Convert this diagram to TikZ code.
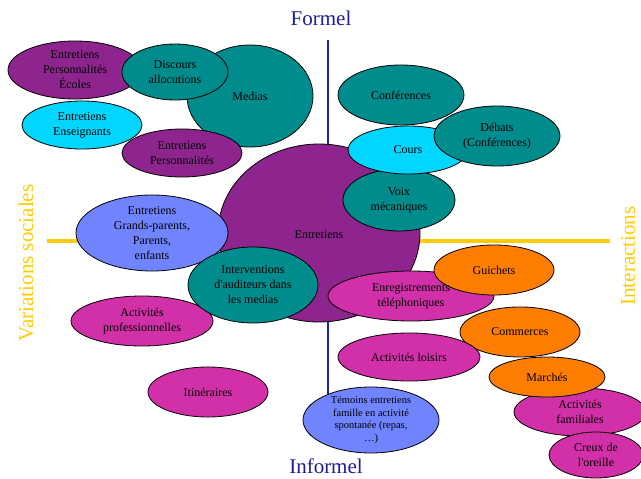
\documentclass[tikz,border=0pt]{standalone}
\usepackage{fontspec}
\setmainfont{Liberation Serif}
\usetikzlibrary{shapes.geometric}

\definecolor{cPurple}{RGB}{142,36,142}
\definecolor{cTeal}{RGB}{0,140,140}
\definecolor{cCyan}{RGB}{0,214,255}
\definecolor{cLightBlue}{RGB}{112,132,255}
\definecolor{cMagenta}{RGB}{210,48,168}
\definecolor{cOrange}{RGB}{255,125,0}
\definecolor{cAxisBlue}{RGB}{20,40,170}
\definecolor{cTitleBlue}{RGB}{30,30,150}
\definecolor{cGold}{RGB}{255,204,0}

\tikzset{
  bubble/.style={ellipse, draw=black, line width=0.8pt, inner sep=0pt},
  btext/.style={align=center, font=\fontsize{12}{15}\selectfont, inner sep=0pt},
  bsmall/.style={align=center, font=\fontsize{10.5}{12.6}\selectfont, inner sep=0pt},
  axistitle/.style={font=\fontsize{21}{24}\selectfont, inner sep=0pt},
  vaxis/.style={cAxisBlue, line width=2.6pt},
  haxis/.style={cGold, line width=3.2pt},
}

% \bub{name}{x}{y}{rx}{ry}{colour}
\newcommand{\bub}[6]{\node[bubble, fill=#6, minimum width=#4*2pt, minimum height=#5*2pt] (#1) at (#2,#3) {};}

\begin{document}
\begin{tikzpicture}[x=1pt, y=-1pt]
\useasboundingbox (0,0) rectangle (641,479);
\fill[white] (0,0) rectangle (641,479);

% axes
\coordinate (vtop) at (328,40);
\coordinate (vbot) at (328,400);
\coordinate (hleft) at (47,241);
\coordinate (hright) at (610,241);
\draw[haxis] (hleft) -- (hright);
\draw[vaxis] (vtop) -- (vbot);

% axis titles
\node[axistitle, text=cTitleBlue] (formel) at (321,18) {Formel};
\node[axistitle, text=cTitleBlue] (informel) at (326,466) {Informel};
\node[axistitle, text=cGold, rotate=90] (varsoc) at (26,263) {Variations sociales};
\node[axistitle, text=cGold, rotate=90] (interact) at (628,256) {Interactions};

% bubbles, back to front
\bub{medias}{250}{96}{63}{51}{cTeal}
\bub{persecoles}{75}{70}{67}{29}{cPurple}
\bub{discours}{175}{72}{53}{28}{cTeal}
\bub{enseignants}{82}{125}{60}{24}{cCyan}
\bub{personnalites}{182}{153}{60}{24}{cPurple}
\bub{entretiens}{319}{233}{101}{89}{cPurple}
\bub{conferences}{401}{95}{63}{30}{cTeal}
\bub{voix}{399}{200}{56}{31}{cTeal}
\bub{cours}{408}{150}{60}{24}{cCyan}
\bub{debats}{497}{136}{63}{30}{cTeal}
\bub{grandsparents}{152}{233}{76}{38}{cLightBlue}
\bub{actpro}{142}{321}{71}{25}{cMagenta}
\bub{interventions}{253}{285}{65}{38}{cTeal}
\bub{itineraires}{208}{392}{60}{25}{cMagenta}
\bub{enregistrements}{411}{296}{83}{25}{cMagenta}
\bub{guichets}{494}{270}{60}{25}{cOrange}
\bub{commerces}{520}{332}{60}{25}{cOrange}
\bub{loisirs}{409}{357}{71}{24}{cMagenta}
\bub{familiales}{580}{412}{66}{24}{cMagenta}
\bub{marches}{547}{377}{58}{20}{cOrange}
\bub{creux}{596}{455}{47}{23}{cMagenta}
\bub{temoins}{371}{420}{68}{33}{cLightBlue}

% labels
\node[btext] at (persecoles.center) {Entretiens\\Personnalités\\Écoles};
\node[btext] at (discours.center) {Discours\\allocutions};
\node[btext] at (medias.center) {Medias};
\node[btext] at (enseignants.center) {Entretiens\\Enseignants};
\node[btext] at (personnalites.center) {Entretiens\\Personnalités};
\node[btext] at ([yshift=-2pt]entretiens.center) {Entretiens};
\node[btext] at (conferences.center) {Conférences};
\node[btext] at (cours.center) {Cours};
\node[btext] at (debats.center) {Débats\\(Conférences)};
\node[btext] at (voix.center) {Voix\\mécaniques};
\node[btext] at (grandsparents.center) {Entretiens\\Grands-parents,\\Parents,\\enfants};
\node[btext] at (interventions.center) {Interventions\\d\textquotesingle auditeurs dans\\les medias};
\node[btext] at (actpro.center) {Activités\\professionnelles};
\node[btext] at (itineraires.center) {Itinéraires};
\node[btext] at (enregistrements.center) {Enregistrements\\téléphoniques};
\node[btext] at (guichets.center) {Guichets};
\node[btext] at (commerces.center) {Commerces};
\node[btext] at (loisirs.center) {Activités loisirs};
\node[btext] at (marches.center) {Marchés};
\node[btext] at (familiales.center) {Activités\\familiales};
\node[btext] at (creux.center) {Creux de\\l\textquotesingle oreille};
\node[bsmall] at (temoins.center) {Témoins entretiens\\famille en activité\\spontanée (repas,\\…)};
\end{tikzpicture}
\end{document}
